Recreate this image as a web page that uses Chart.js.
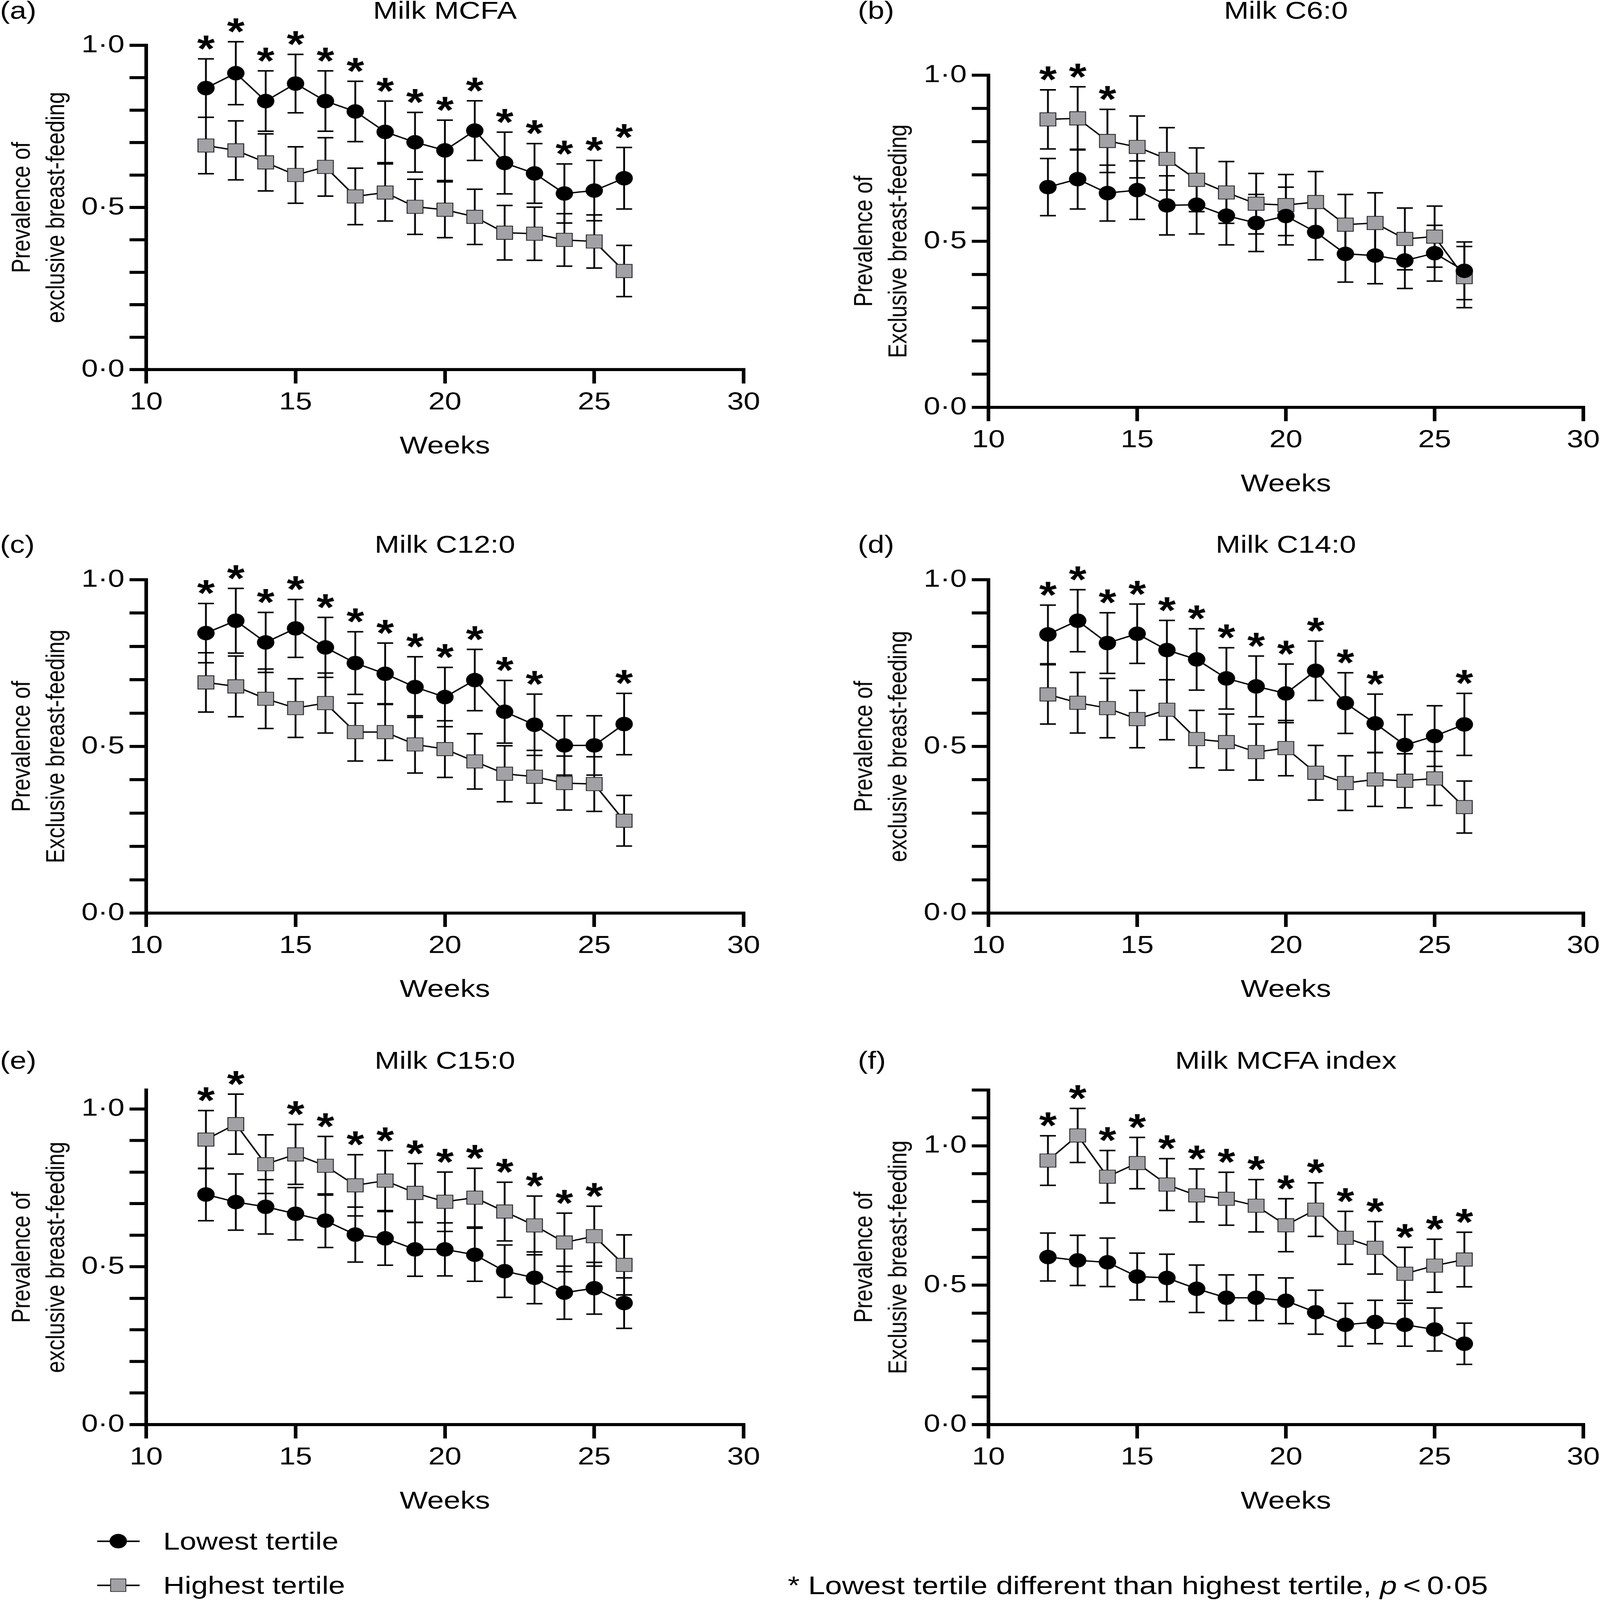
<!DOCTYPE html>
<html>
<head>
<meta charset="utf-8">
<script src="https://cdn.jsdelivr.net/npm/chart.js@4.4.1/dist/chart.umd.min.js"></script>
<style>
  html, body { margin: 0; padding: 0; background: #fff; overflow: hidden; }
  #page { position: absolute; left: 0; top: 0; width: 4411px; height: 5299px; transform-origin: 0 0;
          font-family: 'Liberation Sans', Arial, sans-serif; color: #000; }
  canvas { position: absolute; }
  .txt { position: absolute; white-space: nowrap; line-height: 1; font-size: 82px; }
  .c { transform: translate(-50%, -50%); }
  .ytitle { position: absolute; white-space: nowrap; text-align: center; font-size: 71px; line-height: 95px;
            transform: translate(-50%, -50%) rotate(-90deg); }
</style>
</head>
<body>
<div id="page"></div>
<script>
// Weeks of follow-up (x axis)
const weeks = [12, 13, 14, 15, 16, 17, 18, 19, 20, 21, 22, 23, 24, 25, 26];
const labelledTicks = [0, 0.5, 1.0];

// (a) Milk MCFA
const lowA      = [0.868, 0.914, 0.828, 0.882, 0.828, 0.796, 0.733, 0.701, 0.676, 0.737, 0.637, 0.605, 0.543, 0.552, 0.590];
const lowErrA   = [0.090, 0.097, 0.093, 0.090, 0.093, 0.093, 0.095, 0.092, 0.093, 0.092, 0.095, 0.092, 0.091, 0.093, 0.095];
const highA     = [0.691, 0.676, 0.639, 0.600, 0.625, 0.534, 0.546, 0.502, 0.493, 0.471, 0.422, 0.419, 0.400, 0.395, 0.304];
const highErrA  = [0.087, 0.091, 0.088, 0.087, 0.090, 0.087, 0.088, 0.085, 0.086, 0.085, 0.084, 0.082, 0.081, 0.082, 0.079];
const sigA      = [12, 13, 14, 15, 16, 17, 18, 19, 20, 21, 22, 23, 24, 25, 26];

// (b) Milk C6:0
const lowB      = [0.663, 0.687, 0.645, 0.654, 0.608, 0.610, 0.577, 0.555, 0.576, 0.528, 0.462, 0.457, 0.442, 0.464, 0.411];
const lowErrB   = [0.086, 0.090, 0.084, 0.088, 0.089, 0.088, 0.088, 0.086, 0.087, 0.084, 0.085, 0.085, 0.084, 0.084, 0.087];
const highB     = [0.867, 0.870, 0.802, 0.784, 0.748, 0.685, 0.647, 0.613, 0.609, 0.618, 0.550, 0.555, 0.507, 0.514, 0.392];
const highErrB  = [0.089, 0.095, 0.095, 0.093, 0.094, 0.096, 0.093, 0.091, 0.092, 0.092, 0.091, 0.091, 0.093, 0.092, 0.092];
const sigB      = [12, 13, 14];

// (c) Milk C12:0
const lowC      = [0.840, 0.877, 0.812, 0.854, 0.797, 0.750, 0.718, 0.678, 0.648, 0.699, 0.604, 0.565, 0.503, 0.503, 0.567];
const lowErrC   = [0.089, 0.097, 0.090, 0.087, 0.090, 0.094, 0.092, 0.091, 0.089, 0.092, 0.094, 0.092, 0.089, 0.089, 0.092];
const highC     = [0.692, 0.680, 0.643, 0.615, 0.630, 0.543, 0.543, 0.506, 0.492, 0.455, 0.418, 0.409, 0.390, 0.387, 0.277];
const highErrC  = [0.089, 0.091, 0.089, 0.088, 0.090, 0.087, 0.085, 0.086, 0.085, 0.083, 0.084, 0.079, 0.081, 0.082, 0.076];
const sigC      = [12, 13, 14, 15, 16, 17, 18, 19, 20, 21, 22, 23, 26];

// (d) Milk C14:0
const lowD      = [0.836, 0.877, 0.810, 0.838, 0.789, 0.761, 0.704, 0.680, 0.659, 0.727, 0.630, 0.569, 0.504, 0.531, 0.566];
const lowErrD   = [0.088, 0.093, 0.091, 0.089, 0.089, 0.092, 0.092, 0.091, 0.088, 0.089, 0.091, 0.088, 0.091, 0.091, 0.093];
const highD     = [0.656, 0.631, 0.615, 0.582, 0.610, 0.522, 0.513, 0.483, 0.495, 0.421, 0.390, 0.401, 0.397, 0.404, 0.318];
const highErrD  = [0.089, 0.091, 0.089, 0.086, 0.090, 0.086, 0.084, 0.084, 0.083, 0.082, 0.082, 0.081, 0.081, 0.081, 0.078];
const sigD      = [12, 13, 14, 15, 16, 17, 18, 19, 20, 21, 22, 23, 26];

// (e) Milk C15:0
const lowE      = [0.729, 0.705, 0.690, 0.668, 0.646, 0.602, 0.590, 0.555, 0.555, 0.538, 0.486, 0.465, 0.418, 0.432, 0.385];
const lowErrE   = [0.083, 0.089, 0.086, 0.083, 0.085, 0.087, 0.085, 0.085, 0.084, 0.084, 0.083, 0.082, 0.084, 0.082, 0.080];
const highE     = [0.903, 0.952, 0.825, 0.856, 0.820, 0.758, 0.773, 0.734, 0.706, 0.719, 0.675, 0.631, 0.577, 0.597, 0.506];
const highErrE  = [0.092, 0.095, 0.093, 0.095, 0.093, 0.097, 0.095, 0.093, 0.094, 0.093, 0.093, 0.093, 0.093, 0.095, 0.095];
const sigE      = [12, 13, 15, 16, 17, 18, 19, 20, 21, 22, 23, 24, 25];

// (f) Milk MCFA index
const lowF      = [0.601, 0.589, 0.582, 0.531, 0.526, 0.487, 0.455, 0.455, 0.444, 0.403, 0.358, 0.368, 0.358, 0.341, 0.290];
const lowErrF   = [0.086, 0.090, 0.087, 0.084, 0.085, 0.085, 0.082, 0.082, 0.082, 0.079, 0.077, 0.078, 0.077, 0.077, 0.074];
const highF     = [0.947, 1.037, 0.889, 0.938, 0.861, 0.822, 0.810, 0.785, 0.715, 0.771, 0.670, 0.634, 0.541, 0.570, 0.592];
const highErrF  = [0.089, 0.097, 0.094, 0.092, 0.093, 0.095, 0.095, 0.094, 0.095, 0.096, 0.095, 0.094, 0.095, 0.095, 0.098];
const sigF      = [12, 13, 14, 15, 16, 17, 18, 19, 20, 21, 22, 23, 24, 25, 26];

const FONT = "'Liberation Sans', Arial, sans-serif";
const SQUARE_FILL = '#a2a1a6';
const page = document.getElementById('page');

// plot boxes in page pixels: L/R = x 10/30, T = top of y axis, B = y 0
const panels = [
  { tag: '(a)', title: 'Milk MCFA', ytitle: ['Prevalence of', 'exclusive breast-feeding'], ymax: 1.0,
    low: lowA, lowErr: lowErrA, high: highA, highErr: highErrA, sig: sigA, L: 403, R: 2050, T: 150, B: 1224, titleY: 34 },
  { tag: '(b)', title: 'Milk C6:0', ytitle: ['Prevalence of', 'Exclusive breast-feeding'], ymax: 1.0,
    low: lowB, lowErr: lowErrB, high: highB, highErr: highErrB, sig: sigB, L: 2725, R: 4365, T: 249, B: 1349, titleY: 34 },
  { tag: '(c)', title: 'Milk C12:0', ytitle: ['Prevalence of', 'Exclusive breast-feeding'], ymax: 1.0,
    low: lowC, lowErr: lowErrC, high: highC, highErr: highErrC, sig: sigC, L: 403, R: 2050, T: 1920, B: 3024, titleY: 1803 },
  { tag: '(d)', title: 'Milk C14:0', ytitle: ['Prevalence of', 'exclusive breast-feeding'], ymax: 1.0,
    low: lowD, lowErr: lowErrD, high: highD, highErr: highErrD, sig: sigD, L: 2725, R: 4365, T: 1920, B: 3024, titleY: 1803 },
  { tag: '(e)', title: 'Milk C15:0', ytitle: ['Prevalence of', 'exclusive breast-feeding'], ymax: 1.06,
    low: lowE, lowErr: lowErrE, high: highE, highErr: highErrE, sig: sigE, L: 403, R: 2050, T: 3610, B: 4718, titleY: 3512 },
  { tag: '(f)', title: 'Milk MCFA index', ytitle: ['Prevalence of', 'Exclusive breast-feeding'], ymax: 1.2,
    low: lowF, lowErr: lowErrF, high: highF, highErr: highErrF, sig: sigF, L: 2725, R: 4365, T: 3610, B: 4718, titleY: 3512 }
];

function addText(html, x, y, cls, extra) {
  const d = document.createElement('div');
  d.className = cls;
  d.innerHTML = html;
  d.style.left = x + 'px';
  d.style.top = y + 'px';
  if (extra) Object.assign(d.style, extra);
  page.appendChild(d);
  return d;
}

// error bars behind the markers, asterisks on top
const errorBarPlugin = {
  id: 'errorBars',
  beforeDatasetsDraw(chart) {
    const p = chart.options.plugins.errorBars;
    const xs = chart.scales.x, ys = chart.scales.y, ctx = chart.ctx;
    ctx.save();
    ctx.strokeStyle = '#000';
    ctx.lineWidth = 5;
    [[p.high, p.highErr], [p.low, p.lowErr]].forEach(([vals, errs]) => {
      weeks.forEach((w, i) => {
        const x = xs.getPixelForValue(w);
        const yHi = ys.getPixelForValue(vals[i] + errs[i]);
        const yLo = ys.getPixelForValue(vals[i] - errs[i]);
        ctx.beginPath();
        ctx.moveTo(x, yHi); ctx.lineTo(x, yLo);
        ctx.moveTo(x - 22, yHi); ctx.lineTo(x + 22, yHi);
        ctx.moveTo(x - 22, yLo); ctx.lineTo(x + 22, yLo);
        ctx.stroke();
      });
    });
    ctx.restore();
  },
  afterDatasetsDraw(chart) {
    const p = chart.options.plugins.errorBars;
    const xs = chart.scales.x, ys = chart.scales.y, ctx = chart.ctx;
    const size = 125;
    ctx.save();
    ctx.fillStyle = '#000';
    ctx.font = 'bold ' + size + 'px ' + FONT;
    ctx.textAlign = 'center';
    ctx.textBaseline = 'alphabetic';
    p.sig.forEach(w => {
      const i = weeks.indexOf(w);
      const top = Math.max(p.high[i] + p.highErr[i], p.low[i] + p.lowErr[i]);
      const x = xs.getPixelForValue(w);
      const cy = ys.getPixelForValue(top) - 66;
      ctx.fillText('*', x, cy + 0.6 * size);
    });
    ctx.restore();
  }
};

const PAD_L = 230, PAD_T = 230, PAD_R = 90, PAD_B = 170;

panels.forEach(p => {
  const cv = document.createElement('canvas');
  const w = p.R - p.L + PAD_L + PAD_R, h = p.B - p.T + PAD_T + PAD_B;
  cv.width = w; cv.height = h;
  cv.style.left = (p.L - PAD_L) + 'px';
  cv.style.top = (p.T - PAD_T) + 'px';
  cv.style.width = w + 'px'; cv.style.height = h + 'px';
  page.appendChild(cv);

  const axisGrid = { display: true, drawOnChartArea: false, drawTicks: true, tickLength: 46,
                     tickWidth: 10, tickColor: '#000', color: '#000', lineWidth: 10 };

  new Chart(cv.getContext('2d'), {
    type: 'line',
    data: {
      datasets: [{
        label: 'Lowest tertile',
        data: weeks.map((x, i) => ({ x: x, y: p.low[i] })),
        borderColor: '#000',
        borderWidth: 4.5,
        pointStyle: 'circle',
        pointRadius: 24,
        pointBackgroundColor: '#000',
        pointBorderColor: '#000',
        pointBorderWidth: 0,
        tension: 0,
        clip: false
      }, {
        label: 'Highest tertile',
        data: weeks.map((x, i) => ({ x: x, y: p.high[i] })),
        borderColor: '#000',
        borderWidth: 4.5,
        pointStyle: 'rect',
        pointRadius: 31,
        pointBackgroundColor: SQUARE_FILL,
        pointBorderColor: '#222',
        pointBorderWidth: 2.5,
        tension: 0,
        clip: false
      }]
    },
    options: {
      responsive: false,
      animation: false,
      devicePixelRatio: 1,
      layout: { padding: { left: 0, top: PAD_T, right: PAD_R, bottom: 0 } },
      plugins: {
        legend: { display: false },
        tooltip: { enabled: false },
        errorBars: { low: p.low, lowErr: p.lowErr, high: p.high, highErr: p.highErr, sig: p.sig }
      },
      scales: {
        x: {
          type: 'linear', min: 10, max: 30,
          grid: axisGrid,
          border: { display: true, width: 10, color: '#000' },
          ticks: { stepSize: 5, color: '#000', font: { family: FONT, size: 82 }, padding: 14, maxRotation: 0 },
          afterFit: s => { s.height = PAD_B; }
        },
        y: {
          type: 'linear', min: 0, max: p.ymax,
          grid: axisGrid,
          border: { display: true, width: 10, color: '#000' },
          ticks: {
            autoSkip: false, color: '#000', font: { family: FONT, size: 82 }, padding: 14,
            callback: v => labelledTicks.some(t => Math.abs(t - v) < 1e-6) ? v.toFixed(1).replace('.', '\u00b7') : ''
          },
          // minor ticks every 0.1, up to the axis top
          afterBuildTicks: s => {
            const t = [];
            for (let k = 0; k / 10 <= p.ymax + 1e-9; k++) t.push({ value: k / 10 });
            s.ticks = t;
          },
          afterFit: s => { s.width = PAD_L; }
        }
      }
    },
    plugins: [errorBarPlugin]
  });

  // panel letter, title, axis titles
  const tagX = p.L < 1000 ? 0 : 2365;
  addText(p.tag, tagX, p.titleY, 'txt', { transform: 'translate(0, -50%)' });
  addText(p.title, (p.L + p.R) / 2, p.titleY, 'txt c');
  addText('Weeks', (p.L + p.R) / 2, p.B + 250, 'txt c');
  addText(p.ytitle.join('<br>'), p.L - 298, (p.T + p.B) / 2, 'ytitle');
});

// legend
function legendItem(y, shape, label) {
  const line = document.createElement('div');
  Object.assign(line.style, { position: 'absolute', left: '268px', top: (y - 2.5) + 'px', width: '117px', height: '5px', background: '#000' });
  page.appendChild(line);
  const m = document.createElement('div');
  if (shape === 'circle') {
    Object.assign(m.style, { position: 'absolute', left: (326 - 24) + 'px', top: (y - 24) + 'px', width: '48px', height: '48px',
                             borderRadius: '50%', background: '#000' });
  } else {
    Object.assign(m.style, { position: 'absolute', left: (326 - 22) + 'px', top: (y - 22) + 'px', width: '44px', height: '44px',
                             boxSizing: 'border-box', border: '2.5px solid #222', background: SQUARE_FILL });
  }
  page.appendChild(m);
  addText(label, 450, y, 'txt', { transform: 'translate(0, -50%)' });
}
legendItem(5104, 'circle', 'Lowest tertile');
legendItem(5250, 'rect', 'Highest tertile');

addText('* Lowest tertile different than highest tertile, <i>p</i>\u2009<\u20090\u00b705', 4102, 5250, 'txt',
        { transform: 'translate(-100%, -50%)', fontSize: '84px' });

// the window may be smaller than the 4411 x 5299 figure: stretch the page to fill it
const sx = window.innerWidth / 4411, sy = window.innerHeight / 5299;
if (Math.abs(sx - 1) > 0.001 || Math.abs(sy - 1) > 0.001) page.style.transform = 'scale(' + sx + ',' + sy + ')';
</script>
</body>
</html>
